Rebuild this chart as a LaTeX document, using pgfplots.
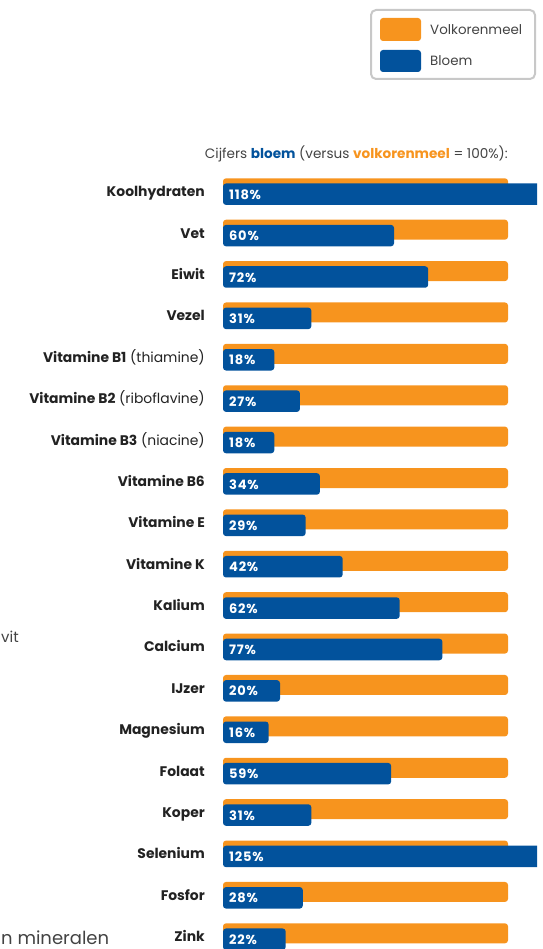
\documentclass[border=0pt]{standalone}
\usepackage{pgfplots}
\pgfplotsset{compat=1.18}
\usepackage{pgfplotstable}
\usepackage{fontspec}
\setmainfont{Poppins}
\definecolor{vkorange}{RGB}{247,148,30}
\definecolor{vkblue}{RGB}{2,82,156}
\definecolor{txt}{RGB}{34,34,34}
\definecolor{frame}{RGB}{200,200,200}

\pgfplotstableread{
row ref val
0 100 118
1 100 60
2 100 72
3 100 31
4 100 18
5 100 27
6 100 18
7 100 34
8 100 29
9 100 42
10 100 62
11 100 77
12 100 20
13 100 16
14 100 59
15 100 31
16 100 125
17 100 28
18 100 22
}\data

\begin{document}
\begin{tikzpicture}
\path[use as bounding box] (0,0) rectangle (542pt,-949pt);
% legend
\draw[frame, line width=2pt, rounded corners=5pt] (371pt,-10pt) rectangle (535pt,-79pt);
\fill[vkorange, rounded corners=3pt] (380pt,-18pt) rectangle (421pt,-41pt);
\fill[vkblue, rounded corners=3pt] (380pt,-50pt) rectangle (421pt,-72pt);
\node[anchor=base west, inner sep=0pt, text=txt!85, font=\fontsize{13.4}{15}\selectfont] at (430pt,-34.5pt) {Volkorenmeel};
\node[anchor=base west, inner sep=0pt, text=txt!85, font=\fontsize{13.4}{15}\selectfont] at (430pt,-66pt) {Bloem};
% header
\node[anchor=base east, inner sep=0pt, text=txt!85, font=\fontsize{13.6}{15}\selectfont] at (508pt,-159pt) {Cijfers \textbf{\textcolor{vkblue}{bloem}} (versus \textbf{\textcolor{vkorange}{volkorenmeel}} = 100\%):};
% cut-off text fragments
\node[anchor=base west, inner sep=0pt, text=txt!85, font=\fontsize{15}{18}\selectfont] at (1pt,-642pt) {vit};
\node[anchor=base west, inner sep=0pt, text=txt!85, font=\fontsize{18}{21}\selectfont] at (1pt,-944pt) {n mineralen};

\begin{axis}[
  anchor=north west, at={(223pt,-146.91pt)},
  x=2.85pt, y=41.39pt,
  xmin=0, xmax=110.2, ymin=-19, ymax=1,
  axis line style={draw=none},
  major tick style={draw=none},
  xtick=\empty,
  ytick={-0.203,-1.203,-2.203,-3.203,-4.203,-5.203,-6.203,-7.203,-8.203,-9.203,-10.203,-11.203,-12.203,-13.203,-14.203,-15.203,-16.203,-17.203,-18.203},
  yticklabels={
    {\textbf{Koolhydraten}},
    {\textbf{Vet}},
    {\textbf{Eiwit}},
    {\textbf{Vezel}},
    {\textbf{Vitamine B1} (thiamine)},
    {\textbf{Vitamine B2} (riboflavine)},
    {\textbf{Vitamine B3} (niacine)},
    {\textbf{Vitamine B6}},
    {\textbf{Vitamine E}},
    {\textbf{Vitamine K}},
    {\textbf{Kalium}},
    {\textbf{Calcium}},
    {\textbf{IJzer}},
    {\textbf{Magnesium}},
    {\textbf{Folaat}},
    {\textbf{Koper}},
    {\textbf{Selenium}},
    {\textbf{Fosfor}},
    {\textbf{Zink}}},
  yticklabel style={anchor=base east, inner sep=0pt, xshift=-18pt, text=txt, font=\fontsize{13.9}{15}\selectfont},
  clip=true,
]
\addplot[xbar, bar width=20pt, bar shift=0pt, fill=vkorange, draw=none, rounded corners=3pt]
  table[x=ref, y expr=-\thisrow{row}] {\data};
\addplot[xbar, bar width=21.5pt, bar shift=0pt, fill=vkblue, draw=none, rounded corners=3pt]
  table[x=val, y expr=-\thisrow{row}-0.1426] {\data};
\addplot[only marks, mark=none, point meta=explicit symbolic,
  nodes near coords={\addfontfeature{LetterSpace=6}\pgfplotspointmeta\%},
  nodes near coords style={anchor=base west, inner sep=0pt, xshift=6pt, text=white, font=\bfseries\fontsize{13}{15}\selectfont}]
  table[x expr=0, y expr=-\thisrow{row}-0.266, meta=val] {\data};
\end{axis}
\end{tikzpicture}
\end{document}
